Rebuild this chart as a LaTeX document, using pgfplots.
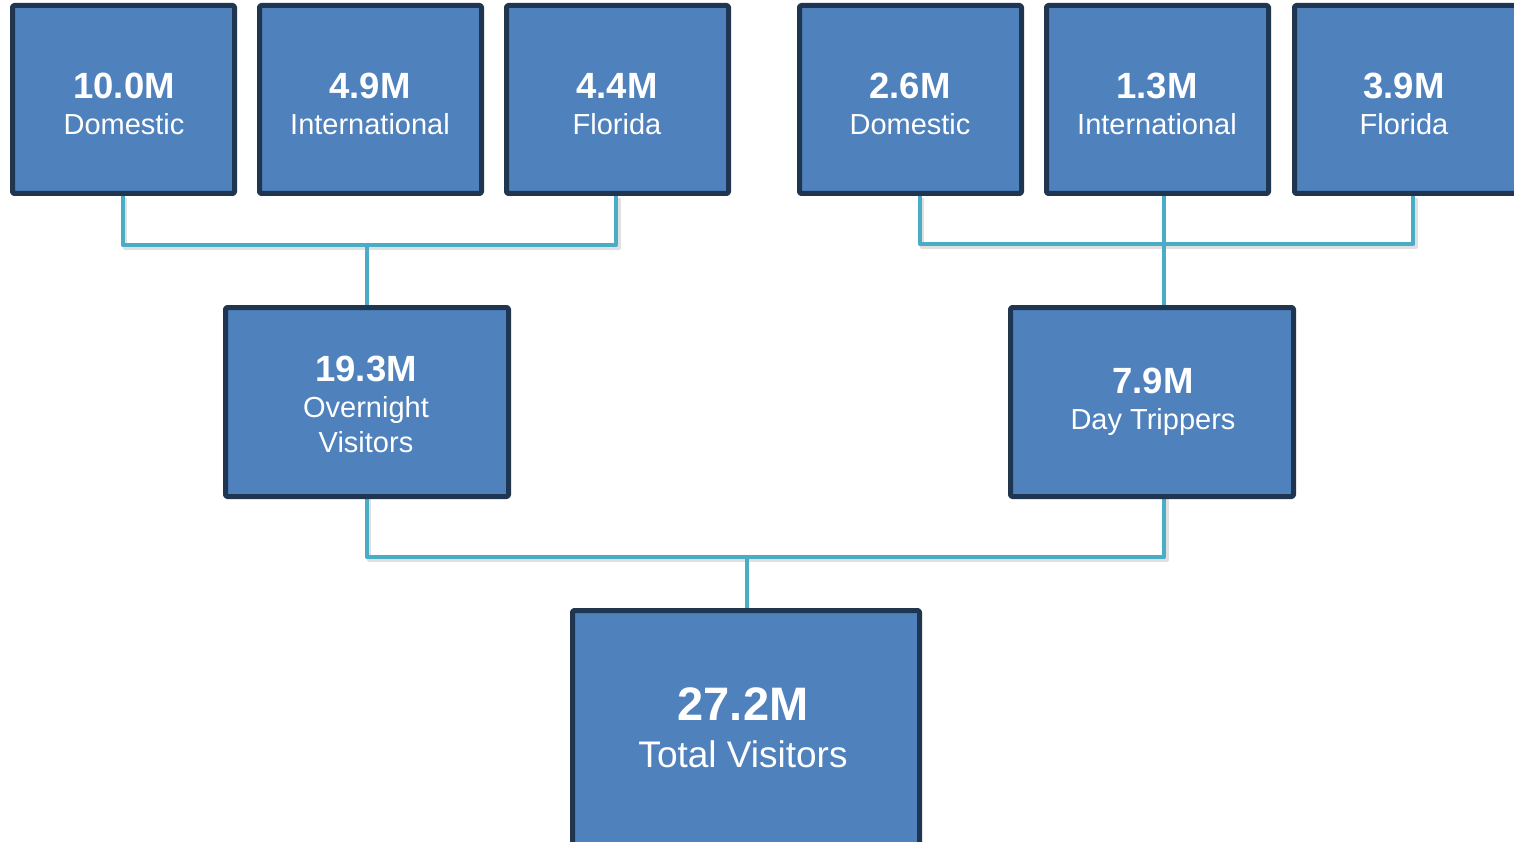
\documentclass[border=0pt]{standalone}
\usepackage{pgfplots}
\pgfplotsset{compat=1.18}
\usepackage{fontspec}
\setmainfont{Liberation Sans}
\definecolor{boxfill}{HTML}{4F81BD}
\definecolor{boxborder}{HTML}{1F3550}
\definecolor{conn}{HTML}{4BACC6}
\begin{document}
\begin{tikzpicture}
\begin{axis}[
  scale only axis, width=1514bp, height=842bp,
  xmin=0, xmax=1514, ymin=0, ymax=842, y dir=reverse,
  hide axis, clip=true,
]
% connector shadows
\pgfplotsset{every axis plot/.append style={line join=round}}
\addplot[black!12, line width=4bp] coordinates {(125,198)(125,248)(619,248)(619,198)};
\addplot[black!12, line width=4bp] coordinates {(922,198)(922,247)(1416,247)(1416,198)};
\addplot[black!12, line width=4bp] coordinates {(369,499)(369,560)(1167,560)(1167,499)};
% connectors
\addplot[conn, line width=4.5bp] coordinates {(123,196)(123,245)(616,245)(616,196)};
\addplot[conn, line width=4.5bp] coordinates {(367,245)(367,305)};
\addplot[conn, line width=4.5bp] coordinates {(920,196)(920,244)(1413,244)(1413,196)};
\addplot[conn, line width=4.5bp] coordinates {(1164,196)(1164,305)};
\addplot[conn, line width=4.5bp] coordinates {(367,499)(367,557)(1164,557)(1164,499)};
\addplot[conn, line width=4.5bp] coordinates {(747,557)(747,608)};
% boxes (path through the middle of the 5 px border)
\pgfplotsset{boxstyle/.style={fill=boxfill, draw=boxborder, line width=5bp, rounded corners=1.5bp}}
\addplot[boxstyle] coordinates {(12.5,5.5)(234.5,5.5)(234.5,193.5)(12.5,193.5)} -- cycle;
\addplot[boxstyle] coordinates {(259.5,5.5)(481.5,5.5)(481.5,193.5)(259.5,193.5)} -- cycle;
\addplot[boxstyle] coordinates {(506.5,5.5)(728.5,5.5)(728.5,193.5)(506.5,193.5)} -- cycle;
\addplot[boxstyle] coordinates {(799.5,5.5)(1021.5,5.5)(1021.5,193.5)(799.5,193.5)} -- cycle;
\addplot[boxstyle] coordinates {(1046.5,5.5)(1268.5,5.5)(1268.5,193.5)(1046.5,193.5)} -- cycle;
\addplot[boxstyle] coordinates {(1294.5,5.5)(1516.5,5.5)(1516.5,193.5)(1294.5,193.5)} -- cycle;
\addplot[boxstyle] coordinates {(225.5,307.5)(508.5,307.5)(508.5,496.5)(225.5,496.5)} -- cycle;
\addplot[boxstyle] coordinates {(1010.5,307.5)(1293.5,307.5)(1293.5,496.5)(1010.5,496.5)} -- cycle;
\addplot[boxstyle] coordinates {(572.5,610.5)(919.5,610.5)(919.5,850)(572.5,850)} -- cycle;
% labels
\tikzset{num/.style={anchor=base, text=white, font=\fontsize{36.5bp}{40bp}\selectfont\bfseries},
         lab/.style={anchor=base, text=white, font=\fontsize{29bp}{34bp}\selectfont}}
\node[num] at (axis cs:124,99) {10.0M};
\node[lab] at (axis cs:124,135) {Domestic};
\node[num] at (axis cs:370,99) {4.9M};
\node[lab] at (axis cs:370,135) {International};
\node[num] at (axis cs:617,99) {4.4M};
\node[lab] at (axis cs:617,135) {Florida};
\node[num] at (axis cs:910,99) {2.6M};
\node[lab] at (axis cs:910,135) {Domestic};
\node[num] at (axis cs:1157,99) {1.3M};
\node[lab] at (axis cs:1157,135) {International};
\node[num] at (axis cs:1404,99) {3.9M};
\node[lab] at (axis cs:1404,135) {Florida};
\node[num] at (axis cs:366,381) {19.3M};
\node[lab] at (axis cs:366,417) {Overnight};
\node[lab] at (axis cs:366,452) {Visitors};
\node[num] at (axis cs:1153,393) {7.9M};
\node[lab] at (axis cs:1153,429) {Day Trippers};
\node[anchor=base, text=white, font=\fontsize{47bp}{52bp}\selectfont\bfseries] at (axis cs:743,720) {27.2M};
\node[anchor=base, text=white, font=\fontsize{37bp}{42bp}\selectfont] at (axis cs:743,767) {Total Visitors};
\end{axis}
\pgfresetboundingbox
\path[use as bounding box] (current axis.south west) rectangle (current axis.north east);
\end{tikzpicture}
\end{document}
